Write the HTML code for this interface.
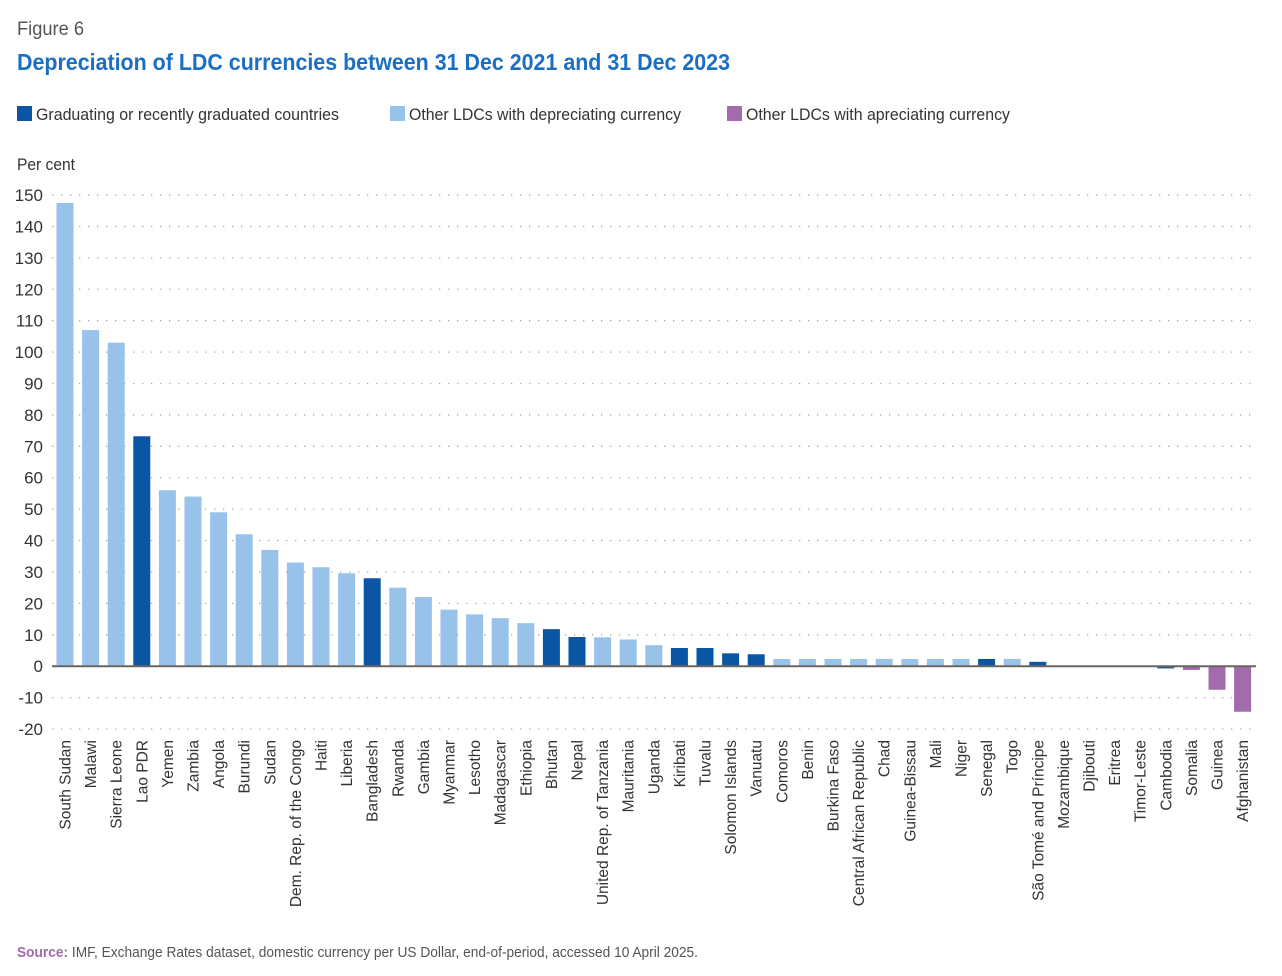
<!DOCTYPE html>
<html><head><meta charset="utf-8"><style>
body{margin:0;background:#fff}
svg{display:block;font-family:"Liberation Sans",sans-serif}
</style></head><body>
<svg id="c" width="1282" height="976" viewBox="0 0 1282 976">
<text x="17" y="35" font-size="19" fill="#555" textLength="67" lengthAdjust="spacingAndGlyphs">Figure 6</text>
<text x="17" y="70" font-size="23" font-weight="bold" fill="#1a6fc4" textLength="713" lengthAdjust="spacingAndGlyphs">Depreciation of LDC currencies between 31 Dec 2021 and 31 Dec 2023</text>
<g>
<rect x="17" y="106" width="15" height="15" fill="#0a56a5"/>
<text x="36" y="120" font-size="17" fill="#333" textLength="303" lengthAdjust="spacingAndGlyphs">Graduating or recently graduated countries</text>
<rect x="390" y="106" width="15" height="15" fill="#98c2e9"/>
<text x="409" y="120" font-size="17" fill="#333" textLength="272" lengthAdjust="spacingAndGlyphs">Other LDCs with depreciating currency</text>
<rect x="727" y="106" width="15" height="15" fill="#a26bab"/>
<text x="746" y="120" font-size="17" fill="#333" textLength="264" lengthAdjust="spacingAndGlyphs">Other LDCs with apreciating currency</text>
</g>
<text x="17" y="170" font-size="17" fill="#333" textLength="58" lengthAdjust="spacingAndGlyphs">Per cent</text>
<g id="grid"></g><g id="bars"></g><g id="xl"></g>
<text x="17" y="957" font-size="15" fill="#555" textLength="681" lengthAdjust="spacingAndGlyphs"><tspan font-weight="bold" fill="#a26bab">Source:</tspan> IMF, Exchange Rates dataset, domestic currency per US Dollar, end-of-period, accessed 10 April 2025.</text>
</svg>
<script>
const countries=["South Sudan","Malawi","Sierra Leone","Lao PDR","Yemen","Zambia","Angola","Burundi","Sudan","Dem. Rep. of the Congo","Haiti","Liberia","Bangladesh","Rwanda","Gambia","Myanmar","Lesotho","Madagascar","Ethiopia","Bhutan","Nepal","United Rep. of Tanzania","Mauritania","Uganda","Kiribati","Tuvalu","Solomon Islands","Vanuatu","Comoros","Benin","Burkina Faso","Central African Republic","Chad","Guinea-Bissau","Mali","Niger","Senegal","Togo","São Tomé and Príncipe","Mozambique","Djibouti","Eritrea","Timor-Leste","Cambodia","Somalia","Guinea","Afghanistan"];
const values=[147.5,107,103,73.2,56,54,49,42,37,33,31.5,29.6,28,25,22,18,16.5,15.3,13.7,11.8,9.3,9.2,8.5,6.7,5.8,5.8,4.1,3.8,2.3,2.3,2.3,2.3,2.3,2.3,2.3,2.3,2.3,2.3,1.4,0,0,0,0,-0.7,-1.2,-7.5,-14.5];
const groups=["o","o","o","g","o","o","o","o","o","o","o","o","g","o","o","o","o","o","o","g","g","o","o","o","g","g","g","g","o","o","o","o","o","o","o","o","g","o","g","o","o","o","o","g","a","a","a"];
const ticks=[150,140,130,120,110,100,90,80,70,60,50,40,30,20,10,0,-10,-20];
const NS="http://www.w3.org/2000/svg";
const y=v=>666.2-v*3.141;
const x=i=>65+i*25.6;
const col={o:"#98c2e9",g:"#0a56a5",a:"#a26bab"};
function mk(t,a,p){const e=document.createElementNS(NS,t);for(const k in a)e.setAttribute(k,a[k]);p.appendChild(e);return e;}
const grid=document.getElementById('grid'),bars=document.getElementById('bars'),xl=document.getElementById('xl');
ticks.forEach(t=>{
  if(t!==0){const l=mk('line',{x1:52,x2:1256,y1:y(t),y2:y(t),stroke:'#aaa','stroke-width':1.3,'stroke-dasharray':'1.3 7.7'},grid);
  
  }
  const tx=mk('text',{x:43,y:y(t)+6,'font-size':17,fill:'#333','text-anchor':'end'},grid);
  tx.textContent=t;
  
  
});
values.forEach((v,i)=>{
  const r=mk('rect',{x:x(i)-8.5,width:17,y:Math.min(y(v),y(0)),height:Math.abs(y(v)-y(0)),fill:col[groups[i]]},bars);
  
  
  const t=mk('text',{transform:`translate(${x(i)+5.5},740) rotate(-90)`,'font-size':15.5,fill:'#333','text-anchor':'end'},xl);
  t.textContent=countries[i];
  
  
});
const z=mk('line',{x1:52,x2:1256,y1:y(0),y2:y(0),stroke:'#6b6560','stroke-width':2},bars);


</script>
</body></html>
